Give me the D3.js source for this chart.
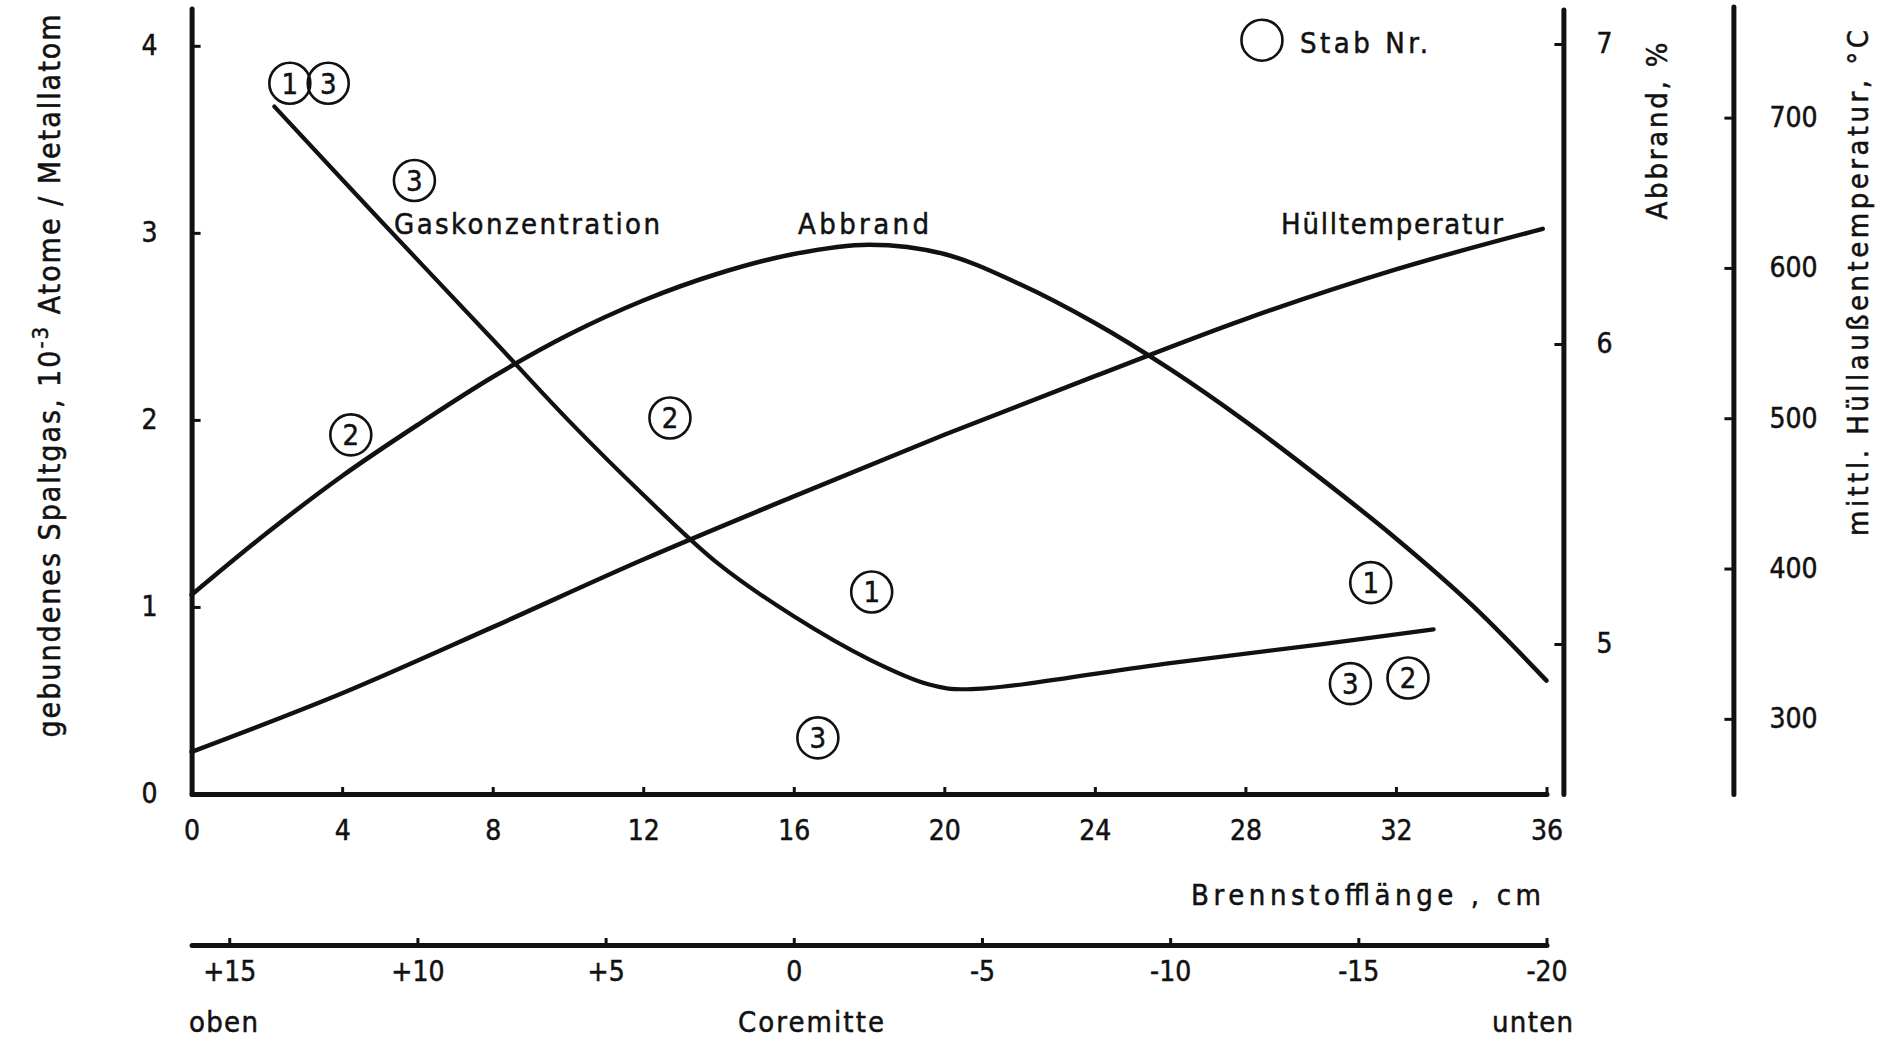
<!DOCTYPE html>
<html>
<head>
<meta charset="utf-8">
<script src="https://cdn.jsdelivr.net/npm/d3@7"></script>
<style>
body { margin: 0; background: #fff; }
svg text { font-family: "DejaVu Sans Condensed", "DejaVu Sans", sans-serif; font-stretch: condensed; fill: #111; stroke: #111; stroke-width: 0.5px; }
.axis path, .axis line { stroke: #111; }
</style>
</head>
<body>
<div id="chart"></div>
<script>

// tick values of the four scales
var lengthTicks = [0, 4, 8, 12, 16, 20, 24, 28, 32, 36];
var coreTicks = [15, 10, 5, 0, -5, -10, -15, -20];
var gasTicks = [0, 1, 2, 3, 4];
var abbrandTicks = [5, 6, 7];
var tempTicks = [300, 400, 500, 600, 700];

// Gaskonzentration (10^-3 Atome/Metallatom) over Brennstofflänge (cm)
var gasX   = [2.2, 5, 8, 10, 12, 14, 16, 18, 19.6, 20.6, 26, 30, 33];
var gasVal = [3.675, 3.07, 2.43, 2.0, 1.60, 1.23, 0.95, 0.72, 0.585, 0.56, 0.70, 0.80, 0.88];

// Abbrand (%)
var abbrandX   = [0, 2, 4, 6, 8, 10, 12, 14, 16, 18, 20, 22, 24, 26, 28, 30, 32, 34, 36];
var abbrandVal = [5.164, 5.37, 5.56, 5.73, 5.89, 6.03, 6.145, 6.235, 6.30, 6.331, 6.30, 6.20, 6.07, 5.916, 5.742, 5.552, 5.352, 5.132, 4.878];

// mittl. Hüllaußentemperatur (°C)
var tempX   = [0, 4, 8, 12, 16, 20, 24, 28, 32, 35.9];
var tempVal = [278, 317, 361, 406, 448, 489, 528, 566, 599, 626];

// Stab Nr. markers (placed in gas units)
var stabNr = ["1", "3", "3", "2", "2", "1", "3", "1", "3", "2"];
var stabX  = [2.61, 3.63, 5.92, 4.23, 12.71, 18.07, 16.64, 31.33, 30.79, 32.32];
var stabY  = [3.80, 3.80, 3.28, 1.92, 2.01, 1.08, 0.30, 1.13, 0.59, 0.62];


// Main svg
var width = 1890;
var height = 1039;

var svg = d3.select("#chart")
	.append("svg")
	.attr("width", width)
	.attr("height", height);

// scales
var xScale = d3.scaleLinear().domain([0, 36]).range([191.6, 1546.5]);
var coreScale = d3.scaleLinear().domain([16, -20]).range([191.6, 1546.5]);
var gasScale = d3.scaleLinear().domain([0, 4.2]).range([794, 8.4]);
var abbrandScale = d3.scaleLinear().domain([4.5, 7.115]).range([794, 9.5]);
var tempScale = d3.scaleLinear().domain([250, 774]).range([794, 6.4]);

var axisY = gasScale(0);
var coreY = 945;
var abbrandAxisX = 1563.4;
var tempAxisX = 1733.4;

function styleAxis(g, fontSize) {
	g.classed("axis", true);
	g.select(".domain").attr("stroke-width", 5).attr("stroke-linecap", "round");
	g.selectAll(".tick line").attr("stroke-width", 3);
	g.selectAll("text")
		.style("font-size", fontSize + "px")
		.attr("fill", "#111");
}

// left axis (gas)
var gasAxis = svg.append("g")
	.attr("transform", "translate(" + xScale(0) + ",0)")
	.call(d3.axisLeft(gasScale).tickValues(gasTicks).tickFormat(d3.format("d"))
		.tickSizeInner(-9).tickSizeOuter(0).tickPadding(34));
styleAxis(gasAxis, 28);

// bottom axis (Brennstofflänge)
var xAxis = svg.append("g")
	.attr("transform", "translate(0," + axisY + ")")
	.call(d3.axisBottom(xScale).tickValues(lengthTicks).tickFormat(d3.format("d"))
		.tickSizeInner(-7).tickSizeOuter(0).tickPadding(26));
styleAxis(xAxis, 28);

// Abbrand axis
var abAxis = svg.append("g")
	.attr("transform", "translate(" + abbrandAxisX + ",0)")
	.call(d3.axisRight(abbrandScale).tickValues(abbrandTicks).tickFormat(d3.format("d"))
		.tickSizeInner(-9).tickSizeOuter(0).tickPadding(33));
styleAxis(abAxis, 28);

// temperature axis
var tAxis = svg.append("g")
	.attr("transform", "translate(" + tempAxisX + ",0)")
	.call(d3.axisRight(tempScale).tickValues(tempTicks).tickFormat(d3.format("d"))
		.tickSizeInner(-9).tickSizeOuter(0).tickPadding(36));
styleAxis(tAxis, 28);

// Coremitte axis
var cAxis = svg.append("g")
	.attr("transform", "translate(0," + coreY + ")")
	.call(d3.axisBottom(coreScale).tickValues(coreTicks).tickSizeInner(-7).tickSizeOuter(0).tickPadding(16)
		.tickFormat(function(d) { return d > 0 ? "+" + d : (d < 0 ? "-" + Math.abs(d) : "0"); }));
styleAxis(cAxis, 28);


// curves
function pts(xs, ys) {
	return xs.map(function(x, i) { return [x, ys[i]]; });
}

function drawCurve(data, yScale, sw) {
	var line = d3.line()
		.x(function(d) { return xScale(d[0]); })
		.y(function(d) { return yScale(d[1]); })
		.curve(d3.curveCatmullRom.alpha(0.5));
	svg.append("path")
		.datum(data)
		.attr("d", line)
		.attr("fill", "none")
		.attr("stroke", "#111")
		.attr("stroke-width", sw)
		.attr("stroke-linecap", "round")
		.attr("stroke-linejoin", "round");
}

drawCurve(pts(tempX, tempVal), tempScale, 4.5);
drawCurve(pts(abbrandX, abbrandVal), abbrandScale, 4.5);
drawCurve(pts(gasX, gasVal), gasScale, 4.2);


// Stab Nr. circles
var marks = svg.append("g")
	.selectAll("g")
	.data(stabNr)
	.enter()
	.append("g")
	.attr("transform", function(d, i) { return "translate(" + xScale(stabX[i]) + "," + gasScale(stabY[i]) + ")"; });

marks.append("circle")
	.attr("r", 20.5)
	.attr("fill", "none")
	.attr("stroke", "#111")
	.attr("stroke-width", 2.6);

marks.append("text")
	.attr("text-anchor", "middle")
	.attr("dy", "0.36em")
	.style("font-size", "29px")
	.text(function(d) { return d; });


// labels
function label(txt, x, y, size, len, anchor) {
	var t = svg.append("text")
		.attr("x", x)
		.attr("y", y)
		.attr("text-anchor", anchor || "start")
		.style("font-size", size + "px")
		.text(txt);
	if (len) t.attr("textLength", len).attr("lengthAdjust", "spacing");
	return t;
}

label("Gaskonzentration", 394, 234, 29, 266);
label("Abbrand", 798, 234, 29, 131);
label("Hülltemperatur", 1281, 234, 29, 222);

// legend
svg.append("circle")
	.attr("cx", xScale(28.44))
	.attr("cy", gasScale(4.03))
	.attr("r", 20.5)
	.attr("fill", "none")
	.attr("stroke", "#111")
	.attr("stroke-width", 2.6);
label("Stab Nr.", 1300, 53, 29, 128);

label("Brennstofflänge , cm", 1191, 905, 29, 350);
label("oben", 189, 1032, 29, 69);
label("Coremitte", 738, 1032, 29, 146);
label("unten", 1492, 1032, 29, 81);

// rotated axis titles
var yl = svg.append("text")
	.attr("transform", "translate(60,376) rotate(-90)")
	.attr("text-anchor", "middle")
	.style("font-size", "30px")
	.attr("textLength", 723)
	.attr("lengthAdjust", "spacing");
yl.append("tspan").text("gebundenes  Spaltgas, 10");
yl.append("tspan").attr("dy", -12).style("font-size", "22px").text("-3");
yl.append("tspan").attr("dy", 12).text(" Atome / Metallatom");

svg.append("text")
	.attr("transform", "translate(1667,131) rotate(-90)")
	.attr("text-anchor", "middle")
	.style("font-size", "29px")
	.attr("textLength", 177)
	.attr("lengthAdjust", "spacing")
	.text("Abbrand, %");

svg.append("text")
	.attr("transform", "translate(1868,283) rotate(-90)")
	.attr("text-anchor", "middle")
	.style("font-size", "29px")
	.attr("textLength", 506)
	.attr("lengthAdjust", "spacing")
	.text("mittl. Hüllaußentemperatur, °C");

</script>
</body>
</html>
